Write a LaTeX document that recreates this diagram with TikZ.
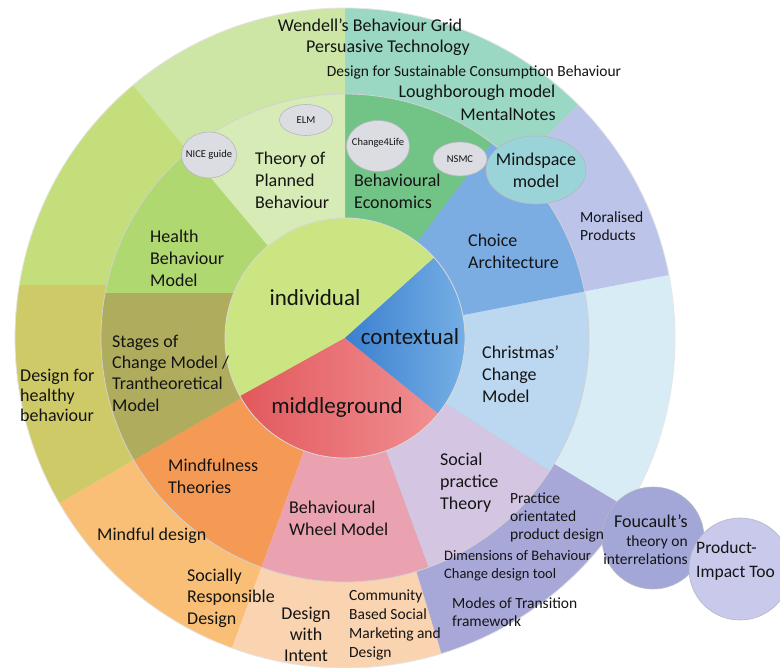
\documentclass[tikz,border=0pt]{standalone}
\usepackage{fontspec}
\setmainfont{Carlito}
\usetikzlibrary{shapes.geometric}
\definecolor{txt}{HTML}{141414}
\definecolor{oPale}{HTML}{CDE6A5}
\definecolor{oTeal}{HTML}{9AD8C4}
\definecolor{oLav}{HTML}{BCC4EA}
\definecolor{oIce}{HTML}{D8ECF6}
\definecolor{oPurp}{HTML}{A8A8D8}
\definecolor{oPeach}{HTML}{FAD3B0}
\definecolor{oOrng}{HTML}{FABF76}
\definecolor{oOlive}{HTML}{CFCA68}
\definecolor{oYG}{HTML}{C3DE7A}
\definecolor{mPale}{HTML}{D6EBB6}
\definecolor{mGreen}{HTML}{72C486}
\definecolor{mBlue}{HTML}{7CADE2}
\definecolor{mIce}{HTML}{BCD8F0}
\definecolor{mLav}{HTML}{D4C5E2}
\definecolor{mPink}{HTML}{EBA2B0}
\definecolor{mOrng}{HTML}{F59A55}
\definecolor{mOlive}{HTML}{B0AC5E}
\definecolor{mGrnB}{HTML}{B0D870}
\definecolor{iGreen}{HTML}{CBE582}
\definecolor{iBlueA}{HTML}{3B7FCF}
\definecolor{iBlueB}{HTML}{7AB3E6}
\definecolor{iRedA}{HTML}{E2585C}
\definecolor{iRedB}{HTML}{F08F92}
\definecolor{ellG}{HTML}{DCDDE3}
\definecolor{ellE}{HTML}{B5B7C0}
\definecolor{mindC}{HTML}{9AD3D8}
\definecolor{foucC}{HTML}{A3A7D8}
\definecolor{prodC}{HTML}{C9C9EC}
\newcommand\piesec[4]{\fill[#1] (0,0) -- (#2:#4) arc[start angle=#2, end angle=#3, radius=#4] -- cycle;}
\begin{document}
\begin{tikzpicture}[x=1pt,y=1pt,
  lbl/.style={font=\fontsize{18}{22}\selectfont, text=txt, inner sep=0pt, align=left},
  lblsm/.style={font=\fontsize{15.5}{18.5}\selectfont, text=txt, inner sep=0pt, align=left},
  lblbig/.style={font=\fontsize{23}{27}\selectfont, text=txt, inner sep=0pt},
  lbltiny/.style={font=\fontsize{10.5}{12}\selectfont, text=txt, inner sep=0pt},
  ellshape/.style={fill=ellG, draw=ellE, line width=0.6pt},
]
\useasboundingbox (0,0) rectangle (780,-668);
\clip (0,0) rectangle (780,-668);
\fill[white] (0,0) rectangle (780,-668);

\begin{scope}[shift={(345,-338)}]
  % outer ring
  \piesec{oTeal}{45}{90}{330}
  \piesec{oPale}{90}{130}{330}
  \piesec{oYG}{130}{210}{330}
  \piesec{oOrng}{210}{250}{330}
  \piesec{oPeach}{250}{287}{330}
  \piesec{oPurp}{287}{329}{330}
  \piesec{oIce}{329}{371}{330}
  \piesec{oLav}{371}{405}{330}
  \begin{scope}
    \clip (-400,52) rectangle (0,-400);
    \piesec{oOlive}{140}{210}{330}
  \end{scope}
  \draw[black!10, line width=0.8pt] (0,0) circle[radius=330];
  % middle ring
  \piesec{mGreen}{53}{90}{244}
  \piesec{mPale}{90}{130}{244}
  \piesec{mGrnB}{130}{210}{244}
  \piesec{mOrng}{210}{250}{244}
  \piesec{mPink}{250}{290}{244}
  \piesec{mLav}{290}{327}{244}
  \piesec{mIce}{327}{371}{244}
  \piesec{mBlue}{371}{413}{244}
  \begin{scope}
    \clip (-400,44) rectangle (0,-400);
    \piesec{mOlive}{140}{210}{244}
  \end{scope}
  \draw[black!18, line width=0.8pt] (0,0) circle[radius=244];
  % inner pie
  \piesec{iGreen}{42}{209}{120}
  \shade[left color=iRedA, right color=iRedB] (0,0) -- (209:120) arc[start angle=209, end angle=321, radius=120] -- cycle;
  \shade[left color=iBlueA, right color=iBlueB] (0,0) -- (321:120) arc[start angle=321, end angle=402, radius=120] -- cycle;
  \draw[black!15, line width=0.8pt] (0,0) circle[radius=120];
\end{scope}

% small ellipses
\filldraw[ellshape] (209,-155) ellipse[x radius=27.5, y radius=23];
\filldraw[ellshape] (306,-120) ellipse[x radius=26.5, y radius=15.5];
\filldraw[ellshape] (378,-146) ellipse[x radius=31.5, y radius=25.5];
\filldraw[ellshape] (460,-159) ellipse[x radius=27, y radius=17];
\filldraw[fill=mindC, draw=ellE, line width=0.6pt] (536,-170) ellipse[x radius=50, y radius=34];
\filldraw[fill=foucC, draw=ellE, line width=0.6pt] (653,-538) circle[radius=51];
\filldraw[fill=prodC, draw=ellE, line width=0.6pt] (740,-569) circle[radius=51];

\node[lbltiny] (nice) at (209,-155) {NICE guide};
\node[lbltiny] (elm) at (306,-120) {ELM};
\node[lbltiny] (c4l) at (378,-143) {Change4Life};
\node[lbltiny] (nsmc) at (460,-159) {NSMC};

% labels
\node[lbl] (wendell) at (370,-25) {Wendell’s Behaviour Grid};
\node[lbl] (persu) at (388,-48) {Persuasive Technology};
\node[lblsm] (dscb) at (474,-72) {Design for Sustainable Consumption Behaviour};
\node[lbl] (lough) at (477,-93) {Loughborough model};
\node[lbl] (mental) at (508,-114) {MentalNotes};
\node[lbl, anchor=west] (tpb) at (255,-180) {Theory of\\Planned\\Behaviour};
\node[lbl, anchor=west] (beco) at (354,-191) {Behavioural\\Economics};
\node[lbl, align=center] (mindtxt) at (536,-170) {Mindspace\\model};
\node[lblsm, anchor=west] (moral) at (580,-226) {Moralised\\Products};
\node[lbl, anchor=west] (choice) at (468,-251) {Choice\\Architecture};
\node[lbl, anchor=west] (health) at (150,-258) {Health\\Behaviour\\Model};
\node[lblbig] (indiv) at (315,-298) {individual};
\node[lblbig] (context) at (410,-337) {contextual};
\node[lblbig] (middle) at (337,-407) {middleground};
\node[lbl, anchor=west] (christ) at (482,-374) {Christmas’\\Change\\Model};
\node[lbl, anchor=west, font=\fontsize{18}{20}\selectfont] (dhb) at (20,-395) {Design for\\healthy\\behaviour};
\node[lbl, anchor=west, font=\fontsize{18}{21.3}\selectfont] (stages) at (112,-373) {Stages of\\Change Model /\\Trantheoretical\\Model};
\node[lbl, anchor=west] (mindf) at (168,-476) {Mindfulness\\Theories};
\node[lbl, anchor=west] (mdes) at (97,-536) {Mindful design};
\node[lbl, anchor=west] (wheel) at (289,-518) {Behavioural\\Wheel Model};
\node[lbl, anchor=west] (spt) at (440,-483) {Social\\practice\\Theory};
\node[lblsm, anchor=west, font=\fontsize{15.5}{18}\selectfont] (pop) at (510,-517) {Practice\\orientated\\product design};
\node[lblsm, anchor=east, align=right] (fouct) at (688,-540) {{\fontsize{18}{20}\selectfont Foucault’s}\\theory on\\interrelations};
\node[lbl, anchor=west, font=\fontsize{17.5}{24}\selectfont] (pit) at (696,-561) {Product-\\Impact Too};
\node[lblsm, anchor=west, font=\fontsize{14.5}{18}\selectfont] (dbc) at (444,-566) {Dimensions of Behaviour\\Change design tool};
\node[lblsm, anchor=west] (modes) at (452,-612) {Modes of Transition\\framework};
\node[lbl, anchor=west, font=\fontsize{18}{21.5}\selectfont] (srd) at (187,-598) {Socially\\Responsible\\Design};
\node[lbl, align=center, font=\fontsize{18}{21}\selectfont] (dwi) at (306,-634) {Design\\with\\Intent};
\node[lblsm, anchor=west, font=\fontsize{15.5}{19}\selectfont] (cbsm) at (349,-625) {Community\\Based Social\\Marketing and\\Design};
\end{tikzpicture}
\end{document}
